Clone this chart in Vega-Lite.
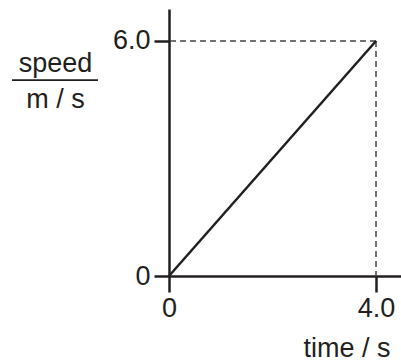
{
  "$schema": "https://vega.github.io/schema/vega-lite/v6.json",
  "autosize": "none",
  "width": 232,
  "height": 267,
  "padding": {"left": 169, "top": 9, "right": 0, "bottom": 86},
  "background": "white",
  "data": {"values": [{"time": 0, "speed": 0}, {"time": 4, "speed": 6}]},
  "config": {
    "view": {"stroke": null},
    "font": "Liberation Sans",
    "axis": {
      "domainColor": "#231f20",
      "domainWidth": 2.5,
      "tickColor": "#231f20",
      "tickWidth": 2.5,
      "grid": false,
      "labelColor": "#231f20",
      "labelFont": "Liberation Sans",
      "labelFontSize": 27,
      "titleColor": "#231f20",
      "titleFont": "Liberation Sans",
      "titleFontSize": 27,
      "titleFontWeight": "normal"
    }
  },
  "layer": [
    {
      "transform": [{"filter": "datum.time == 4"}],
      "mark": {"type": "rule", "color": "#444", "strokeWidth": 1.5, "strokeDash": [6, 4]},
      "encoding": {
        "x": {"field": "time", "type": "quantitative"},
        "x2": {"datum": 0},
        "y": {"field": "speed", "type": "quantitative"}
      }
    },
    {
      "transform": [{"filter": "datum.time == 4"}],
      "mark": {"type": "rule", "color": "#444", "strokeWidth": 1.5, "strokeDash": [6, 4]},
      "encoding": {
        "x": {"field": "time", "type": "quantitative"},
        "y": {"field": "speed", "type": "quantitative"},
        "y2": {"datum": 0}
      }
    },
    {
      "mark": {"type": "line", "color": "#231f20", "strokeWidth": 2.5},
      "encoding": {
        "x": {
          "field": "time",
          "type": "quantitative",
          "scale": {"domain": [0, 4.483], "nice": false, "zero": false},
          "axis": {
            "values": [0, 4],
            "labelExpr": "datum.value == 0 ? '0' : format(datum.value, '.1f')",
            "tickSize": 16,
            "labelPadding": 3,
            "labelFlush": false,
            "title": "time / s",
            "titleAnchor": "end",
            "titleAlign": "right",
            "titleBaseline": "alphabetic",
            "titleX": 221,
            "titleY": 80
          }
        },
        "y": {
          "field": "speed",
          "type": "quantitative",
          "scale": {"domain": [0, 6.817], "nice": false, "zero": false},
          "axis": {
            "values": [0, 6],
            "labelExpr": "datum.value == 0 ? '0' : format(datum.value, '.1f')",
            "tickSize": 15,
            "labelPadding": 4,
            "labelFlush": false,
            "title": ["speed", "m / s"],
            "titleAngle": 0,
            "titleAlign": "center",
            "titleBaseline": "alphabetic",
            "titleLineHeight": 36,
            "titleX": -114,
            "titleY": 62
          }
        }
      }
    },
    {
      "mark": {"type": "rule", "color": "#231f20", "strokeWidth": 1.5, "clip": false},
      "encoding": {
        "x": {"datum": -3.034, "type": "quantitative"},
        "x2": {"datum": -1.372},
        "y": {"datum": 5.0, "type": "quantitative"}
      }
    }
  ]
}
